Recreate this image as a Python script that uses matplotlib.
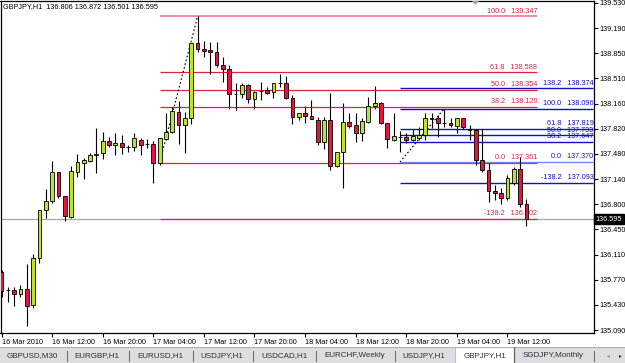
import matplotlib
matplotlib.use("agg")

import matplotlib.pyplot as plt
import numpy as np
from matplotlib.patches import Rectangle, Polygon

plt.rcParams["font.family"] = ["Liberation Sans", "DejaVu Sans"]

# GBPJPY H1 candles, 16 Mar 2010 04:00 .. 19 Mar 15:00
opens = [
    135.878, 135.633, 135.633, 135.579, 135.647, 135.430, 136.068, 136.720, 136.842, 137.236,
    136.910, 136.625, 137.236, 137.358, 137.385, 137.466, 137.494, 137.656, 137.602, 137.629,
    137.575, 137.575, 137.670, 137.610, 137.616, 137.358, 137.684, 137.779, 138.050, 137.874,
    137.969, 138.987, 138.906, 138.892, 138.870, 138.688, 138.634, 138.295, 138.300, 138.417,
    138.227, 138.330, 138.349, 138.322, 138.444, 138.444, 138.240, 137.982, 138.037, 137.996,
    137.942, 137.643, 137.942, 137.317, 137.507, 137.915, 137.874, 137.765, 137.915, 138.132,
    138.172, 137.901, 137.670, 137.711, 137.711, 137.670, 137.697, 137.738, 137.969, 137.969,
    137.901, 137.905, 137.860, 137.969, 137.819, 137.806, 137.398, 137.263, 136.978, 136.950,
    136.883, 137.086, 137.276, 136.806]
highs = [
    135.905, 135.674, 135.674, 135.701, 135.986, 136.122, 136.725, 137.005, 137.385, 137.240,
    136.915, 137.317, 137.480, 137.426, 137.494, 137.833, 137.779, 137.711, 137.765, 137.738,
    137.602, 137.765, 137.697, 137.684, 137.656, 137.700, 138.037, 138.118, 138.200, 138.050,
    138.990, 139.347, 139.014, 139.000, 139.001, 138.797, 138.688, 138.444, 138.444, 138.430,
    138.335, 138.458, 138.390, 138.450, 138.566, 138.539, 138.281, 138.040, 138.132, 138.213,
    137.982, 137.982, 138.308, 137.510, 138.172, 138.037, 138.037, 137.969, 138.254, 138.403,
    138.186, 137.905, 138.037, 137.792, 137.765, 137.819, 137.847, 138.037, 138.037, 138.010,
    138.096, 137.969, 137.975, 137.975, 137.874, 137.819, 137.819, 137.358, 137.059, 137.018,
    137.195, 137.304, 137.439, 136.872]
lows = [
    135.538, 135.470, 135.416, 135.538, 135.145, 135.389, 136.000, 136.611, 136.815, 136.883,
    136.570, 136.611, 137.168, 137.140, 137.371, 137.222, 137.412, 137.575, 137.466, 137.480,
    137.507, 137.521, 137.466, 137.562, 137.086, 137.331, 137.670, 137.765, 137.616, 137.494,
    137.887, 138.865, 138.797, 138.566, 138.661, 138.458, 138.091, 138.077, 138.240, 138.172,
    138.091, 138.213, 138.295, 138.240, 138.390, 138.227, 137.887, 137.942, 137.901, 137.950,
    137.602, 137.548, 137.263, 137.304, 137.018, 137.833, 137.643, 137.656, 137.901, 138.091,
    137.887, 137.562, 137.656, 137.507, 137.629, 137.656, 137.670, 137.670, 137.833, 137.711,
    137.847, 137.847, 137.765, 137.819, 137.670, 137.331, 137.236, 136.828, 136.855, 136.801,
    136.855, 137.059, 136.760, 136.501]
closes = [
    135.620, 135.640, 135.579, 135.647, 135.416, 136.068, 136.720, 136.842, 137.236, 136.910,
    136.638, 137.249, 137.371, 137.398, 137.466, 137.480, 137.656, 137.602, 137.629, 137.575,
    137.580, 137.697, 137.602, 137.616, 137.358, 137.697, 137.779, 138.064, 137.874, 137.969,
    138.987, 138.906, 138.879, 138.870, 138.688, 138.634, 138.295, 138.300, 138.417, 138.227,
    138.322, 138.335, 138.308, 138.444, 138.450, 138.240, 137.982, 138.037, 137.996, 137.955,
    137.643, 137.942, 137.317, 137.507, 137.915, 137.860, 137.765, 137.928, 138.132, 138.172,
    137.901, 137.684, 137.724, 137.716, 137.670, 137.724, 137.738, 137.969, 137.955, 137.901,
    137.905, 137.874, 137.969, 137.847, 137.806, 137.398, 137.263, 136.978, 136.950, 136.883,
    137.154, 137.276, 136.806, 136.595]

time_labels = ["16 Mar 2010", "16 Mar 12:00", "16 Mar 20:00", "17 Mar 04:00",
               "17 Mar 12:00", "17 Mar 20:00", "18 Mar 04:00", "18 Mar 12:00",
               "18 Mar 20:00", "19 Mar 04:00", "19 Mar 12:00"]
price_labels = ["139.530", "139.190", "138.850", "138.510", "138.160", "137.820", "137.480",
                "137.140", "136.800", "136.450", "136.110", "135.770", "135.430", "135.090"]

# two fibonacci retracements
red_levels = [100.0, 61.8, 50.0, 38.2, 0.0, -138.2]
red_prices = [139.347, 138.588, 138.354, 138.120, 137.361, 136.602]
blue_levels = [138.2, 100.0, 61.8, 50.0, 38.2, 0.0, -138.2]
blue_prices = [138.374, 138.096, 137.819, 137.733, 137.647, 137.370, 137.093]

tabs = ["GBPUSD,M30", "EURGBP,H1", "EURUSD,H1", "USDJPY,H1", "USDCAD,H1",
        "EURCHF,Weekly", "USDJPY,H1", "GBPJPY,H1", "SGDJPY,Monthly"]
active_tab = "GBPJPY,H1"

W, H = 625, 363
bull = "#b8e62a"
bear = "#e8143c"
fibred = "#e0203c"
fibblue = "#1010c8"
fs = 5.2

fig = plt.figure(figsize=(W / 100, H / 100), dpi=100)
ax = fig.add_axes([0.5 / W, (H - 333) / H, 593.5 / W, 332 / H])

o = np.array(opens)
c = np.array(closes)
x = np.arange(len(o))
colors = np.where(c >= o, bull, bear)

ax.vlines(x, lows, highs, color="black", lw=0.8, zorder=3)
ax.bar(x, np.abs(c - o), bottom=np.minimum(o, c), width=0.6, color=colors,
       edgecolor="black", linewidth=0.6, zorder=4)

# current bid line
ax.axhline(closes[-1], color="#a8a8a8", lw=0.9, zorder=1)

# red fib: from bar 25 to the right
red_x0, red_x1 = 25, 84.7
for lvl, p in zip(red_levels, red_prices):
    col = "#f08a9c" if lvl == 100.0 else fibred
    ax.hlines(p, red_x0, red_x1, color=col, lw=1.4 if lvl == 100.0 else 0.9, zorder=1.5)
    ax.text(red_x1, p + 0.022, f"{lvl:.1f}   {p:.3f}", ha="right", va="bottom",
            color=fibred, fontsize=fs, zorder=2)
ax.plot([25, 31], [red_prices[4], red_prices[0]], color="black", lw=0.8,
        ls=(0, (1.5, 2)), zorder=2)

# blue fib
blue_x0, blue_x1 = 63, 93.6
for lvl, p in zip(blue_levels, blue_prices):
    col = "#6a8cf0" if lvl == 0.0 else fibblue
    ax.hlines(p, blue_x0, blue_x1, color=col, lw=1.0, zorder=1.6)
    ax.text(blue_x1, p + 0.022, f"{lvl:.1f}   {p:.3f}", ha="right", va="bottom",
            color=fibblue, fontsize=fs, zorder=2)
ax.plot([63, 70], [blue_prices[5], blue_prices[1]], color="black", lw=0.8,
        ls=(0, (1.5, 2)), zorder=2)

ax.set_xlim(-0.16, 93.68)
ax.set_ylim(135.050, 139.557)

ax.yaxis.tick_right()
ax.set_yticks(np.linspace(135.09, 139.53, len(price_labels)), price_labels[::-1])
ax.set_xticks(np.arange(0, 8 * len(time_labels), 8), time_labels)
for lab in ax.get_xticklabels():
    lab.set_horizontalalignment("left")
ax.tick_params(axis="both", labelsize=fs, length=3, width=0.8, color="black", pad=1.2)
for s in ax.spines.values():
    s.set_linewidth(0.9)
    s.set_color("black")

# current price box
ax.text(1.003, closes[-1], f"{closes[-1]:.3f}", transform=ax.get_yaxis_transform(),
        ha="left", va="center", color="white", fontsize=fs, zorder=10,
        bbox=dict(boxstyle="square,pad=0.2", fc="black", ec="black"))

# title
fig.text(3 / W, 1 - 7 / H, f"GBPJPY,H1  {opens[-1]:.3f} {highs[-1]:.3f} {lows[-1]:.3f} {closes[-1]:.3f}",
         fontsize=fs, va="center", ha="left")

# chart shift marker
fig.patches.append(Polygon([[472 / W, 1 - 1 / H], [479 / W, 1 - 1 / H], [475.5 / W, 1 - 5 / H]],
                           closed=True, fc="#a0a0a0", ec="none", transform=fig.transFigure))

# tab bar
tb = fig.add_axes([0, 0, 1, 16 / H])
tb.set_xlim(0, W)
tb.set_ylim(16, 0)
tb.axis("off")
tb.add_patch(Rectangle((0, 0), W, 16, fc="#dedde2", ec="none"))
tb.plot([0, W], [0.3, 0.3], color="#b0b0b0", lw=0.8)
centers = [32, 97, 160, 222, 284, 355, 424, 485, 553]
seps = [67, 129, 193, 253, 316, 395, 594]
for name, cx in zip(tabs, centers):
    if name == active_tab:
        tb.add_patch(Rectangle((455, 0), 59, 16, fc="white", ec="none"))
        tb.plot([514, 514], [0, 16], color="#606060", lw=0.9)
        tb.plot([455, 455], [0, 16], color="#c0c0c0", lw=0.8)
    tb.text(cx, 8.5, name, ha="center", va="center", fontsize=fs + 0.6, color="#303030")
for sx in seps:
    tb.plot([sx, sx], [3.5, 13.5], color="#707070", lw=0.8)
tb.text(608, 8.5, "\u25c2", ha="center", va="center", fontsize=fs - 1, color="#909090")
tb.text(620, 8.5, "\u25b8", ha="center", va="center", fontsize=fs - 1, color="#303030")

fig.savefig("out.png", dpi=100)
